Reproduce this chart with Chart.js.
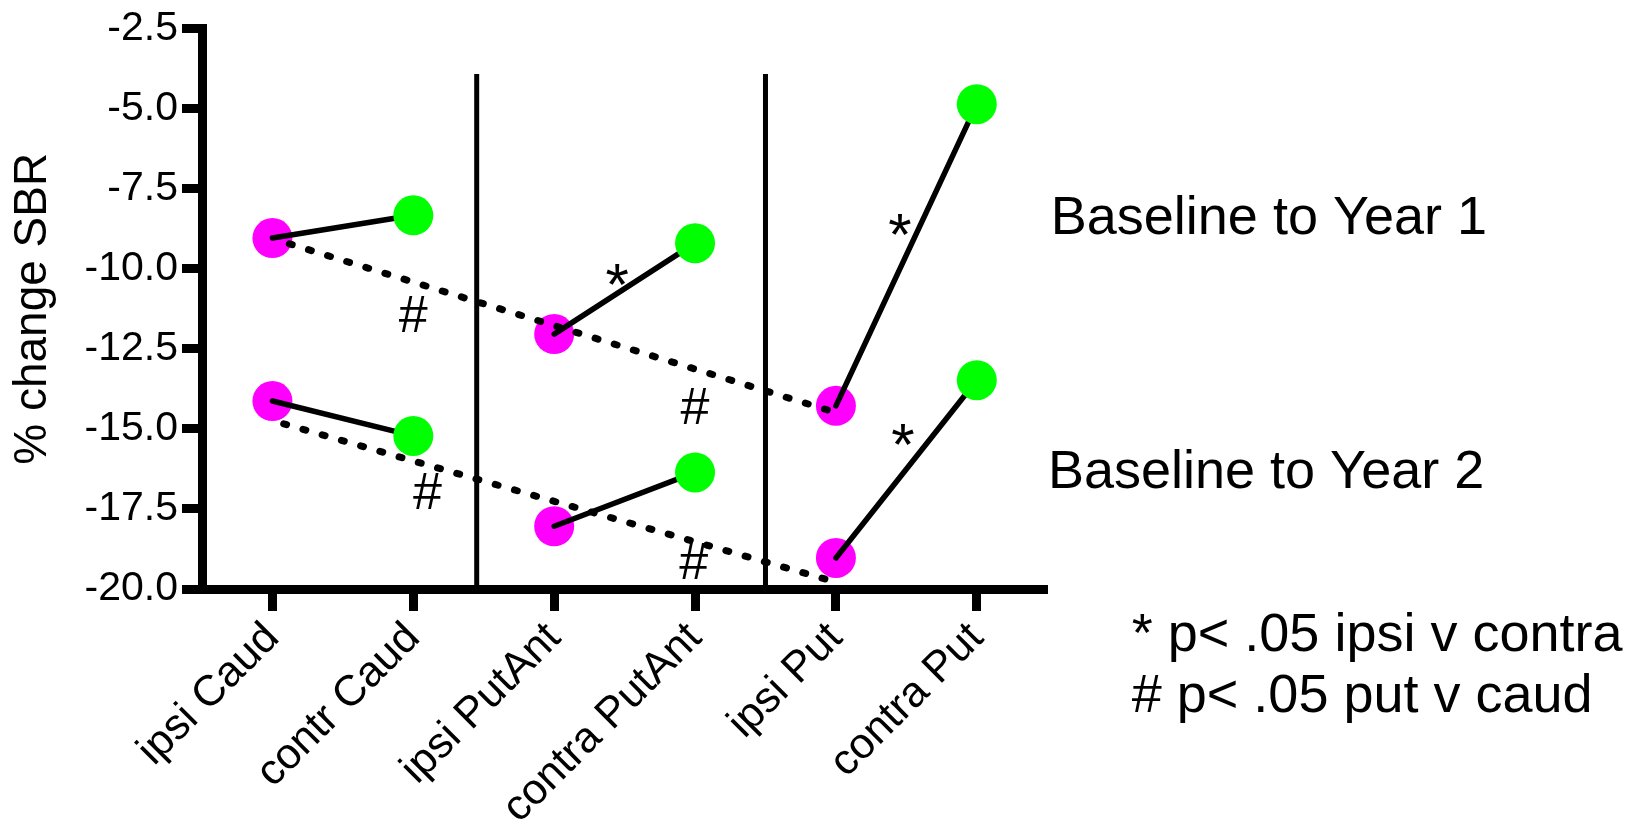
<!DOCTYPE html>
<html><head><meta charset="utf-8">
<script src="https://cdn.jsdelivr.net/npm/chart.js@4.4.1/dist/chart.umd.min.js"></script>
<style>html,body{margin:0;padding:0;background:#fff}#wrap{width:1629px;height:829px;position:relative}</style>
</head><body><div id="wrap"><canvas id="c"></canvas></div>
<script>
// ---- data ----
const categories = ['ipsi Caud', 'contr Caud', 'ipsi PutAnt', 'contra PutAnt', 'ipsi Put', 'contra Put'];
const ipsiIndex = [0, 2, 4];
const contraIndex = [1, 3, 5];
const year1Ipsi = [-9.04, -12.04, -14.28];
const year1Contra = [-8.33, -9.20, -4.86];
const year2Ipsi = [-14.13, -18.04, -19.03];
const year2Contra = [-15.22, -16.36, -13.48];
const year1Trend = [[0.12, -9.22], [3.97, -14.45]];
const year2Trend = [[0.08, -14.84], [3.94, -19.71]];
const separatorX = [1.45, 3.5];
const separatorY = [-20, -3.92];
const yTicks = [-20, -17.5, -15, -12.5, -10, -7.5, -5, -2.5];
const seriesNames = ['Baseline to Year 1', 'Baseline to Year 2'];
const footNotes = ['* p< .05 ipsi v contra', '# p< .05 put v caud'];

// ---- helpers ----
const pts = (xs, ys) => xs.map((x, i) => ({x: x, y: ys[i]}));
function pairs(ipsi, contra) {
  const out = [];
  ipsiIndex.forEach((xi, i) => {
    out.push({x: xi, y: ipsi[i]}, {x: contraIndex[i], y: contra[i]}, {x: contraIndex[i] + 0.3, y: null});
  });
  return out;
}
function separators() {
  const out = [];
  separatorX.forEach(x => { out.push({x: x, y: separatorY[0]}, {x: x, y: separatorY[1]}, {x: x + 0.01, y: null}); });
  return out;
}
const FONT = '"Liberation Sans", Arial, sans-serif';

// annotation layout (data units)
const annotations = [
  {text: '#', x: 1.0, y: -11.96, size: 52, align: 'center'},
  {text: '#', x: 3.0, y: -14.85, size: 52, align: 'center'},
  {text: '#', x: 1.10, y: -17.50, size: 52, align: 'center'},
  {text: '#', x: 2.99, y: -19.69, size: 52, align: 'center'},
  {text: '*', x: 2.447, y: -11.14, size: 60, align: 'center'},
  {text: '*', x: 4.454, y: -9.56, size: 60, align: 'center'},
  {text: '*', x: 4.475, y: -16.13, size: 60, align: 'center'},
  {text: seriesNames[0], x: 5.525, y: -8.92, size: 54, align: 'left'},
  {text: seriesNames[1], x: 5.505, y: -16.85, size: 54, align: 'left'},
  {text: footNotes[0], x: 6.10, y: -21.95, size: 54, align: 'left'},
  {text: footNotes[1], x: 6.10, y: -23.85, size: 54, align: 'left'}
];

const textPlugin = {
  id: 'texts',
  afterDatasetsDraw(chart) {
    const ctx = chart.ctx, xs = chart.scales.x, ys = chart.scales.y;
    ctx.save();
    ctx.fillStyle = '#000';
    ctx.textBaseline = 'alphabetic';
    annotations.forEach(a => {
      ctx.font = a.size + 'px ' + FONT;
      ctx.textAlign = a.align;
      ctx.fillText(a.text, xs.getPixelForValue(a.x), ys.getPixelForValue(a.y));
    });
    ctx.restore();
  }
};

new Chart(document.getElementById('c'), {
  type: 'scatter',
  data: {
    datasets: [
      {data: pts(contraIndex, year1Contra), backgroundColor: '#00ff00', borderWidth: 0, pointRadius: 20, order: 0},
      {data: pts(contraIndex, year2Contra), backgroundColor: '#00ff00', borderWidth: 0, pointRadius: 20, order: 0},
      {data: year1Trend.map(p => ({x: p[0], y: p[1]})), showLine: true, pointRadius: 0, borderColor: '#000', borderWidth: 7, borderDash: [3, 17], borderCapStyle: 'round', order: 1},
      {data: year2Trend.map(p => ({x: p[0], y: p[1]})), showLine: true, pointRadius: 0, borderColor: '#000', borderWidth: 7, borderDash: [3, 17], borderCapStyle: 'round', order: 1},
      {data: pairs(year1Ipsi, year1Contra), showLine: true, spanGaps: false, pointRadius: 0, borderColor: '#000', borderWidth: 5.5, borderCapStyle: 'round', order: 2},
      {data: pairs(year2Ipsi, year2Contra), showLine: true, spanGaps: false, pointRadius: 0, borderColor: '#000', borderWidth: 5.5, borderCapStyle: 'round', order: 2},
      {data: separators(), showLine: true, spanGaps: false, pointRadius: 0, borderColor: '#000', borderWidth: 5, order: 3},
      {data: pts(ipsiIndex, year1Ipsi), backgroundColor: '#ff00ff', borderWidth: 0, pointRadius: 20, order: 4},
      {data: pts(ipsiIndex, year2Ipsi), backgroundColor: '#ff00ff', borderWidth: 0, pointRadius: 20, order: 4}
    ]
  },
  options: {
    responsive: true,
    maintainAspectRatio: false,
    animation: false,
    events: [],
    layout: {padding: {top: 25, right: 586, left: 0, bottom: 0}},
    plugins: {legend: {display: false}, tooltip: {enabled: false}},
    elements: {point: {hoverRadius: 20}},
    datasets: {scatter: {clip: false}},
    scales: {
      x: {
        type: 'linear', min: -0.5, max: 5.47,
        afterBuildTicks: s => { s.ticks = categories.map((_, i) => ({value: i})); },
        afterFit: s => { s.height = 240; },
        ticks: {callback: v => categories[v], autoSkip: false, minRotation: 45, maxRotation: 45,
                font: {family: FONT, size: 43}, color: '#000', padding: 2},
        grid: {drawOnChartArea: false, drawTicks: true, tickLength: 22, lineWidth: 9, color: '#000', tickColor: '#000'},
        border: {display: true, width: 9, color: '#000'}
      },
      y: {
        type: 'linear', min: -20, max: -2.5,
        afterBuildTicks: s => { s.ticks = yTicks.map(v => ({value: v})); },
        afterFit: s => { s.width = 202; },
        ticks: {callback: v => Number(v).toFixed(1), font: {family: FONT, size: 41}, color: '#000', padding: 4},
        grid: {drawOnChartArea: false, drawTicks: true, tickLength: 20, lineWidth: 9, color: '#000', tickColor: '#000'},
        border: {display: true, width: 9, color: '#000'},
        title: {display: true, text: '% change SBR', font: {family: FONT, size: 46}, color: '#000', padding: {top: 6, bottom: 0}}
      }
    }
  },
  plugins: [textPlugin]
});
</script>
</body></html>
